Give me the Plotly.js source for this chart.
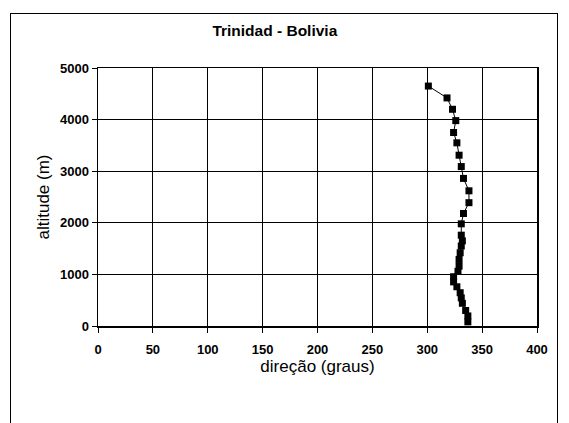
<!DOCTYPE html>
<html><head><meta charset="utf-8">
<script src="https://cdn.plot.ly/plotly-3.0.1.min.js"></script>
<style>
html,body{margin:0;padding:0;background:#fff;}
#wrap{position:relative;width:569px;height:423px;overflow:hidden;}
#frame{position:absolute;left:10px;top:13px;width:548px;height:430px;border:1.5px solid #000;box-sizing:border-box;pointer-events:none;}
#chart{position:absolute;left:0;top:0;width:569px;height:423px;}
</style></head>
<body><div id="wrap"><div id="chart"></div><div id="frame"></div></div>
<script>
const direcao = [301,318,323,326,324,327,329,331,333,338,338,333,331,331,332,331,330,329,329,328,324,324,327,330,331,332,335,337,337];
const altitude = [4650,4420,4200,3980,3750,3550,3310,3090,2860,2620,2390,2180,1980,1760,1650,1550,1420,1290,1160,1060,955,855,760,645,545,440,300,195,80];
const xTicks = [0,50,100,150,200,250,300,350,400];
const yTicks = [0,1000,2000,3000,4000,5000];

const trace = {
  x: direcao, y: altitude, type:'scatter', mode:'lines+markers',
  line:{color:'#000',width:1},
  marker:{symbol:'square',size:7,color:'#000'}
};
const FAM = 'Liberation Sans, Arial, sans-serif';
const tickFont = {family:FAM,size:13,color:'#000',weight:'bold'};
const layout = {
  width:569,height:423,
  margin:{l:98,r:32,t:68,b:97},
  paper_bgcolor:'#fff',plot_bgcolor:'#fff',
  showlegend:false,
  title:{text:'<b>Trinidad - Bolivia</b>',x:0.483,xref:'container',xanchor:'center',y:0.927,yanchor:'middle',
    font:{family:FAM,size:15.5,color:'#000'}},
  xaxis:{range:[0,400],tickvals:xTicks,ticktext:xTicks.map(String),showgrid:true,gridcolor:'#000',gridwidth:1,
    zeroline:false,showline:true,linecolor:'#000',linewidth:1.5,mirror:true,ticks:'outside',ticklen:5,tickcolor:'#000',
    tickfont:tickFont,ticklabelstandoff:6,
    title:{text:'direção (graus)',standoff:2,font:{family:FAM,size:17,color:'#000'}}},
  yaxis:{range:[0,5000],tickvals:yTicks,ticktext:yTicks.map(String),showgrid:true,gridcolor:'#000',gridwidth:1,
    zeroline:false,showline:true,linecolor:'#000',linewidth:1.5,mirror:true,ticks:'outside',ticklen:5,tickcolor:'#000',
    tickfont:tickFont,
    title:{text:'altitude (m)',standoff:6,font:{family:FAM,size:17,color:'#000'}}}
};
Plotly.newPlot('chart',[trace],layout,{displayModeBar:false,staticPlot:true});
</script></body></html>
